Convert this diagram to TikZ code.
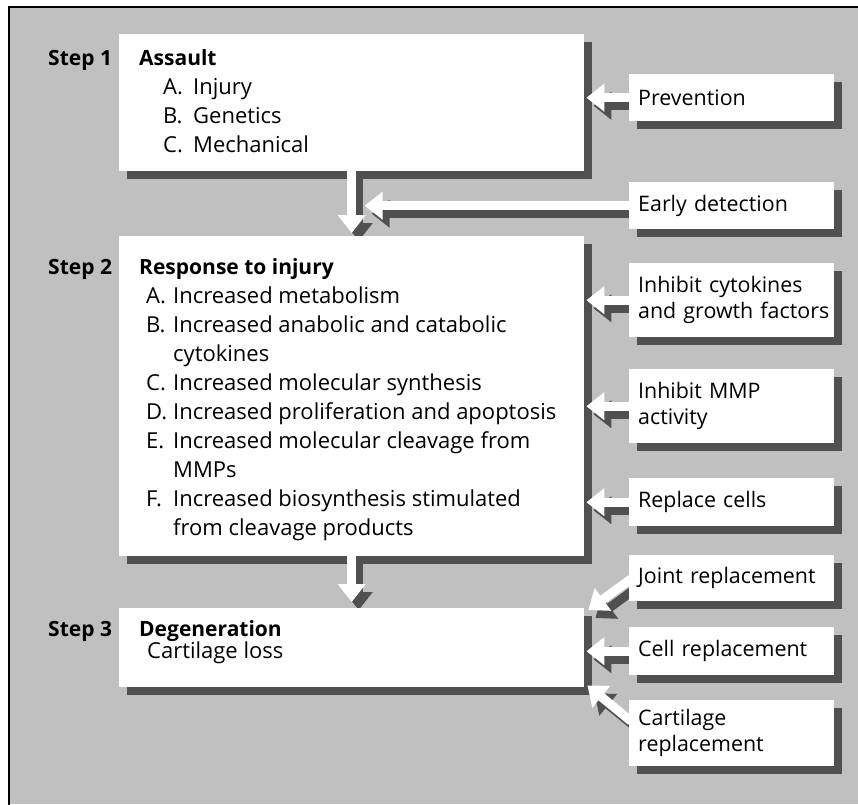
\documentclass[tikz,border=0pt]{standalone}
\usepackage{fontspec}
\setmainfont{Open Sans}
\usetikzlibrary{arrows.meta,calc}
\pgfdeclarelayer{shadowlayer}
\pgfdeclarelayer{frontlayer}
\pgfsetlayers{shadowlayer,main,frontlayer}
\definecolor{bggray}{RGB}{192,192,192}
\definecolor{shd}{RGB}{80,80,80}
\newcommand\tfont{\fontsize{22}{29}\selectfont}
\newcommand\bfont{\fontsize{21}{29}\selectfont\bfseries}
\newcommand\rfont{\fontsize{21.4}{26}\selectfont}
\tikzset{
  mainbox/.style={fill=white, draw=none, anchor=north west, inner sep=0pt, minimum width=465pt},
  rbox/.style={fill=white, draw=none, anchor=north west, minimum width=205pt, text width=187pt,
               inner xsep=9pt, inner ysep=0pt, align=left, font=\rfont},
  txt/.style={anchor=base west, inner sep=0pt, font=\tfont},
  btxt/.style={anchor=base west, inner sep=0pt, font=\bfont},
  blk/.style={line width=9pt, -{Triangle[width=27pt,length=18pt]}},
}
\newcommand\boxshadow[1]{%
  \begin{pgfonlayer}{shadowlayer}
    \fill[shd] ($(#1.north west)+(8,8)$) rectangle ($(#1.south east)+(8,8)$);
  \end{pgfonlayer}}
\newcommand\blkarrow[2]{%
  \begin{pgfonlayer}{shadowlayer}
    \draw[blk, shd] ($(#1)+(7,8)$) -- ($(#2)+(7,8)$);
  \end{pgfonlayer}
  \begin{pgfonlayer}{frontlayer}
    \draw[blk, white] (#1) -- (#2);
  \end{pgfonlayer}}
\newcommand\itm[1]{\makebox[27pt][l]{#1}}
\newcommand\itmw[1]{\makebox[30pt][l]{#1}}
\begin{document}
\begin{tikzpicture}[x=1pt,y=-1pt]
\useasboundingbox (0,0) rectangle (858,804);
\begin{pgfonlayer}{shadowlayer}
  \fill[bggray] (9,7) rectangle (858,804);
  \draw[line width=2.5pt, line cap=rect] (9,804) -- (9,7) -- (858,7);
\end{pgfonlayer}

% main boxes
\node[mainbox, minimum height=137pt] (s1) at (119,34) {};
\node[mainbox, minimum height=320pt] (s2) at (119,236) {};
\node[mainbox, minimum height=79pt]  (s3) at (119,608) {};
\boxshadow{s1}\boxshadow{s2}\boxshadow{s3}

% right boxes
\node[rbox, minimum height=47pt] (prev)   at (629,74)  {\mbox{Prevention}};
\node[rbox, minimum height=47pt] (early)  at (629,182) {\mbox{Early detection}};
\node[rbox, minimum height=74pt] (inhcyt) at (629,263) {\mbox{Inhibit cytokines}\\\mbox{and growth factors}};
\node[rbox, minimum height=74pt] (inhmmp) at (629,369) {\mbox{Inhibit MMP}\\\mbox{activity}};
\node[rbox, minimum height=48pt] (repl)   at (629,478) {\mbox{Replace cells}};
\node[rbox, minimum height=46pt] (joint)  at (629,555) {\mbox{Joint replacement}};
\node[rbox, minimum height=48pt] (cell)   at (629,627) {\mbox{Cell replacement}};
\node[rbox, minimum height=66pt] (cart)   at (629,700) {\mbox{Cartilage}\\\mbox{replacement}};
\boxshadow{prev}\boxshadow{early}\boxshadow{inhcyt}\boxshadow{inhmmp}
\boxshadow{repl}\boxshadow{joint}\boxshadow{cell}\boxshadow{cart}

% step 1 text
\node[btxt] (lab1) at (48,65) {Step 1};
\node[btxt] (t1h) at (139,65) {Assault};
\node[txt] (t1a) at (163,94)  {\itmw{A.}Injury};
\node[txt] (t1b) at (163,123) {\itmw{B.}Genetics};
\node[txt] (t1c) at (163,152) {\itmw{C.}Mechanical};

% step 2 text
\node[btxt] (lab2) at (48,274) {Step 2};
\node[btxt] (t2h) at (139,274) {Response to injury};
\node[txt] (t2a)  at (146,303) {\itm{A.}Increased metabolism};
\node[txt] (t2b)  at (146,332) {\itm{B.}Increased anabolic and catabolic};
\node[txt] (t2b2) at (173,361) {cytokines};
\node[txt] (t2c)  at (146,390) {\itm{C.}Increased molecular synthesis};
\node[txt] (t2d)  at (146,419) {\itm{D.}Increased proliferation and apoptosis};
\node[txt] (t2e)  at (146,448) {\itm{E.}Increased molecular cleavage from};
\node[txt] (t2e2) at (173,477) {MMPs};
\node[txt] (t2f)  at (146,506) {\itm{F.}Increased biosynthesis stimulated};
\node[txt] (t2f2) at (173,535) {from cleavage products};

% step 3 text
\node[btxt] (lab3) at (48,636) {Step 3};
\node[btxt] (t3h) at (139,636) {Degeneration};
\node[txt] (t3a) at (147,658) {Cartilage loss};

% arrow end points
\coordinate (v1s) at (s1.south);
\coordinate (v1e) at ($(s2.north)+(0,-3)$);
\coordinate (v2s) at (s2.south);
\coordinate (v2e) at ($(s3.north)+(0,-6)$);
\coordinate (aprev)  at ($(s1.east |- prev.west)+(2,0)$);
\coordinate (aearly) at ($(s1.south |- early.west)+(13,0)$);
\coordinate (acyt)   at ($(s2.east |- inhcyt.west)+(2,0)$);
\coordinate (ammp)   at ($(s2.east |- inhmmp.west)+(2,0)$);
\coordinate (arepl)  at ($(s2.east |- repl.west)+(2,0)$);
\coordinate (acell)  at ($(s3.east |- cell.west)+(2,0)$);
\coordinate (ajoint) at ($(s3.north east)+(4,2)$);
\coordinate (jstart) at ($(joint.west)+(3,0)$);
\coordinate (acart)  at ($(s3.south east)+(3,-2)$);
\coordinate (cstart) at ($(cart.west)+(2,-12)$);

\blkarrow{v1s}{v1e}
\blkarrow{v2s}{v2e}
\blkarrow{prev.west}{aprev}
\blkarrow{early.west}{aearly}
\blkarrow{inhcyt.west}{acyt}
\blkarrow{inhmmp.west}{ammp}
\blkarrow{repl.west}{arepl}
\blkarrow{cell.west}{acell}
\blkarrow{jstart}{ajoint}
\blkarrow{cstart}{acart}
\end{tikzpicture}
\end{document}
